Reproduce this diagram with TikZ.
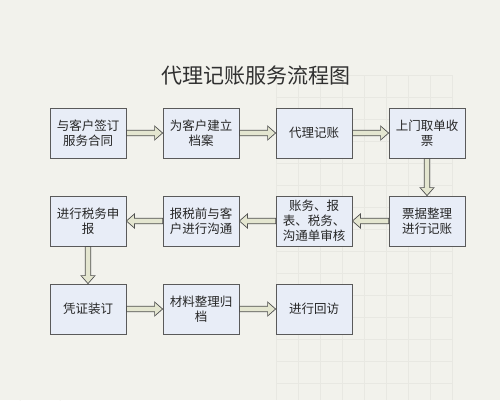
\documentclass[tikz,border=0pt]{standalone}
\usepackage{fontspec}
\newfontfamily\cjk{Noto Sans CJK SC}
\usetikzlibrary{calc}
\definecolor{bgc}{HTML}{F2F2EC}
\definecolor{gridc}{HTML}{E8E8E2}
\definecolor{boxfill}{HTML}{E8EDF7}
\definecolor{boxline}{HTML}{5A5A5A}
\definecolor{arrfill}{HTML}{E4E6D0}
\definecolor{arrline}{HTML}{505050}
\definecolor{titlec}{HTML}{303030}
\tikzset{
  stepbox/.style={draw=boxline, fill=boxfill, line width=0.8pt,
    minimum width=76pt, minimum height=50pt, inner sep=2pt,
    align=center, font=\cjk\fontsize{12.5}{15}\selectfont, text=black!85},
  fatarrow/.style={draw=arrline, fill=arrfill, line width=0.7pt, line join=miter,
    to path={let \p1=(\tikztostart), \p2=(\tikztotarget),
      \n1={atan2(\y2-\y1,\x2-\x1)}, \n2={veclen(\x2-\x1,\y2-\y1)} in
      [shift={(\p1)}, rotate=\n1]
      (0pt,-2.8pt) -- (\n2-8pt,-2.8pt) -- (\n2-8pt,-7pt) -- (\n2,0pt)
      -- (\n2-8pt,7pt) -- (\n2-8pt,2.8pt) -- (0pt,2.8pt) -- cycle}},
  titletext/.style={font=\cjk\fontsize{21}{24}\selectfont, text=titlec}
}
\begin{document}
\begin{tikzpicture}[x=1pt,y=-1pt]
\fill[bgc] (0,0) rectangle (500,400);
\useasboundingbox (0,0) rectangle (500,400);
% faint background decoration
\begin{scope}[draw=gridc, line width=0.5pt]
  \foreach \gx in {276,298,320,342,364,386,408,430,452} {\draw (\gx,75) -- (\gx,400);}
  \foreach \gy in {75,97,119,141,163,185,207,229,251,273,295,317,339,361,383} {\draw (276,\gy) -- (452,\gy);}
  \draw (60,400) arc[start angle=180, end angle=90, radius=300];
  \draw (20,400) arc[start angle=180, end angle=110, radius=360];
\end{scope}
\node[titletext] (title) at (256,76) {代理记账服务流程图};
% row 1
\node[stepbox] (n1) at (88,133) {与客户签订\\服务合同};
\node[stepbox] (n2) at (201,133) {为客户建立\\档案};
\node[stepbox] (n3) at (314,133) {代理记账};
\node[stepbox] (n4) at (427,133) {上门取单收\\票};
% row 2
\node[stepbox] (n5) at (427,221) {票据整理\\进行记账};
\node[stepbox] (n6) at (314,221) {账务、报\\表、税务、\\沟通单审核};
\node[stepbox] (n7) at (201,221) {报税前与客\\户进行沟通};
\node[stepbox] (n8) at (88,221) {进行税务申\\报};
% row 3
\node[stepbox] (n9) at (88,309) {凭证装订};
\node[stepbox] (n10) at (201,309) {材料整理归\\档};
\node[stepbox] (n11) at (314,309) {进行回访};
% connectors
\draw[fatarrow] (n1.east) to (n2.west);
\draw[fatarrow] (n2.east) to (n3.west);
\draw[fatarrow] (n3.east) to (n4.west);
\draw[fatarrow] (n4.south) to (n5.north);
\draw[fatarrow] (n5.west) to (n6.east);
\draw[fatarrow] (n6.west) to (n7.east);
\draw[fatarrow] (n7.west) to (n8.east);
\draw[fatarrow] (n8.south) to (n9.north);
\draw[fatarrow] (n9.east) to (n10.west);
\draw[fatarrow] (n10.east) to (n11.west);
\end{tikzpicture}
\end{document}
